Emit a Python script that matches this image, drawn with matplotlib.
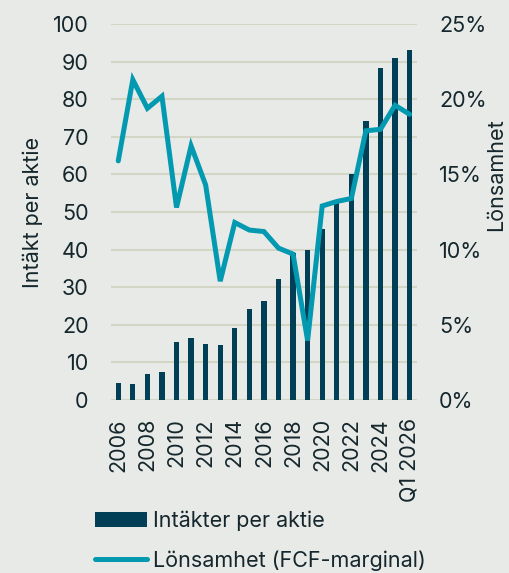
import matplotlib
matplotlib.use("Agg")
import matplotlib.pyplot as plt
import numpy as np

categories = [str(y) for y in range(2006, 2026)] + ["Q1 2026"]
tick_labels = ["2006", "", "2008", "", "2010", "", "2012", "", "2014", "", "2016", "",
               "2018", "", "2020", "", "2022", "", "2024", "", "Q1 2026"]
revenue_per_share = [4.4, 4.3, 6.9, 7.4, 15.5, 16.4, 15.0, 14.7, 19.1, 24.1, 26.4,
                     32.2, 39.0, 39.9, 45.4, 52.4, 60.1, 74.3, 88.3, 91.1, 93.2]
fcf_margin = [15.9, 21.3, 19.4, 20.2, 12.8, 16.9, 14.3, 7.9, 11.8, 11.3, 11.2,
              10.1, 9.7, 3.95, 12.9, 13.2, 13.4, 17.9, 18.0, 19.6, 19.0]

bg = "#e8eae7"
bar_c = "#003f56"
line_c = "#0299b1"
grid_c = "#d3d5c5"
txt_c = "#15272c"
fs = 15.5

plt.rcParams['font.family'] = ['Inter', 'DejaVu Sans']
plt.rcParams['text.color'] = txt_c

fig = plt.figure(figsize=(5.09, 5.73), dpi=100, facecolor=bg)
ax = fig.add_axes([0.218, 0.302, 0.601, 0.656], facecolor=bg)
ax2 = ax.twinx()

x = np.arange(len(categories))
bars = ax.bar(x, revenue_per_share, width=0.36, color=bar_c, zorder=2,
              label="Intäkter per aktie")
line, = ax2.plot(x, fcf_margin, color=line_c, lw=3.6, solid_joinstyle='miter',
                 solid_capstyle='round', zorder=3, label="Lönsamhet (FCF-marginal)")

ax.set_xlim(-0.5, 20.5)
ax.set_ylim(0, 100)
ax.set_yticks(np.arange(0, 101, 10))
ax2.set_ylim(0, 25)
ax2.set_yticks(np.arange(0, 26, 5))
ax2.set_yticklabels([f"{v}%" for v in range(0, 26, 5)])

ax.yaxis.grid(True, color=grid_c, lw=1.5, zorder=0)
ax.set_axisbelow(True)
ax.set_xticks(x)
ax.set_xticklabels(tick_labels, rotation=90)

for a in (ax, ax2):
    for s in a.spines.values():
        s.set_visible(False)
    a.tick_params(length=0, labelsize=fs, colors=txt_c)
ax.tick_params(axis='y', pad=16)
ax2.tick_params(axis='y', pad=16)
ax.tick_params(axis='x', pad=13)

ax.set_ylabel("Intäkt per aktie", fontsize=fs, color=txt_c)
ax.yaxis.set_label_coords(-0.222, 0.5)
ax2.set_ylabel("Lönsamhet", fontsize=fs, color=txt_c)
ax2.yaxis.set_label_coords(1.228, 0.6)

leg = fig.legend([bars, line], ["Intäkter per aktie", "Lönsamhet (FCF-marginal)"],
                 loc="upper left", bbox_to_anchor=(0.17, 0.124), frameon=False,
                 fontsize=fs, handlelength=2.4, handletextpad=0.28, labelspacing=0.9,
                 borderaxespad=0)

fig.savefig("out.png", dpi=100, facecolor=bg)
